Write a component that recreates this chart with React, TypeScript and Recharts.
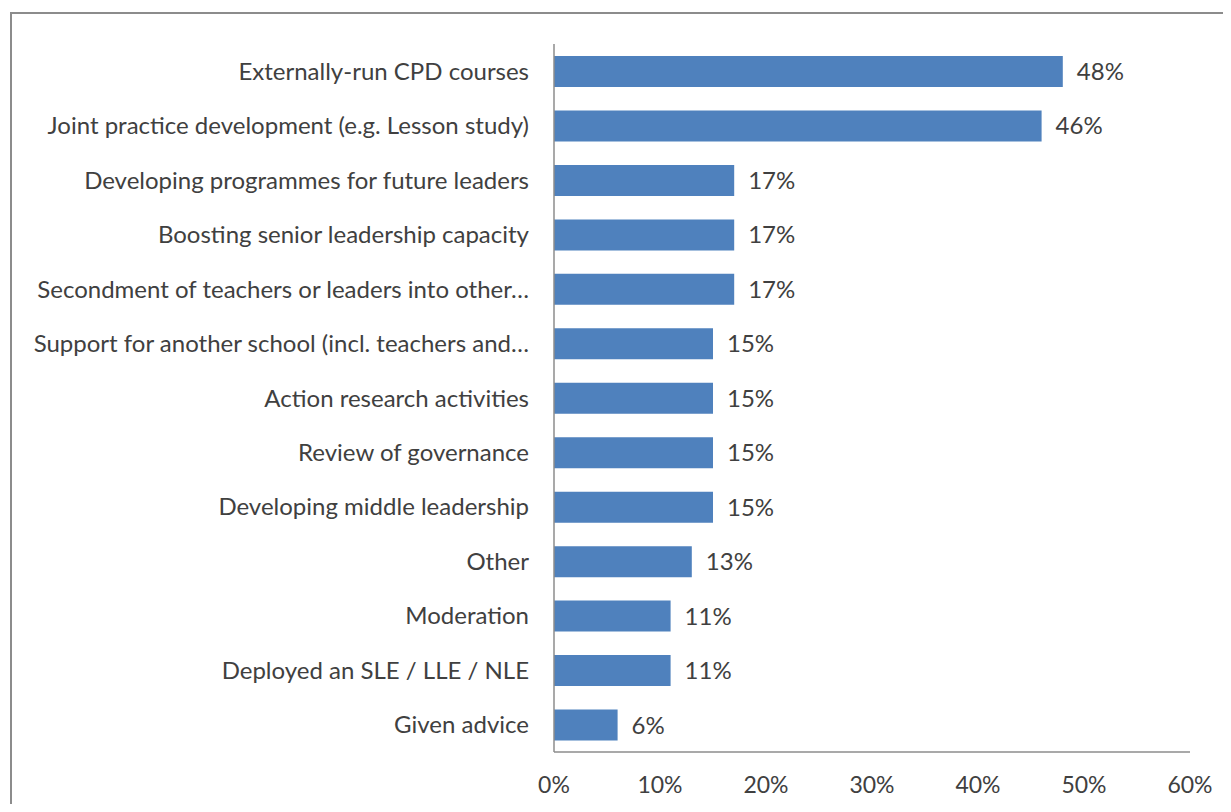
import { BarChart, Bar, XAxis, YAxis, LabelList } from 'recharts'

const categories = [
  'Externally-run CPD courses',
  'Joint practice development (e.g. Lesson study)',
  'Developing programmes for future leaders',
  'Boosting senior leadership capacity',
  'Secondment of teachers or leaders into other…',
  'Support for another school (incl. teachers and…',
  'Action research activities',
  'Review of governance',
  'Developing middle leadership',
  'Other',
  'Moderation',
  'Deployed an SLE / LLE / NLE',
  'Given advice',
]

const percentages = [48, 46, 17, 17, 17, 15, 15, 15, 15, 13, 11, 11, 6]

const xTicks = [0, 10, 20, 30, 40, 50, 60]

const data = categories.map((name, i) => ({ name, value: percentages[i] }))

const FONT = 'Lato, "Open Sans", sans-serif'
const TEXT = '#404040'

export default function App() {
  return (
    <div
      style={{
        position: 'relative',
        width: 1231,
        height: 812,
        margin: -8,
        overflow: 'hidden',
        background: '#fff',
        fontFamily: FONT,
      }}
    >
      {/* outer frame, runs off the right/bottom edge like the screenshot */}
      <div
        style={{
          position: 'absolute',
          left: 10,
          top: 12,
          width: 1240,
          height: 820,
          border: '2px solid #8c8c8c',
        }}
      />
      <div style={{ position: 'absolute', left: 0, top: 0 }}>
        <BarChart
          width={1231}
          height={812}
          data={data}
          layout="vertical"
          margin={{ top: 44, right: 41, bottom: 10, left: 0 }}
          barCategoryGap={0}
        >
          <XAxis
            type="number"
            domain={[0, 60]}
            ticks={xTicks}
            tickFormatter={(v) => `${v}%`}
            tickLine={false}
            tickMargin={19}
            height={50}
            axisLine={{ stroke: '#8c8c8c', strokeWidth: 1.5 }}
            tick={{ fill: TEXT, fontSize: 23, fontFamily: FONT }}
          />
          <YAxis
            type="category"
            dataKey="name"
            width={554}
            tickLine={false}
            tickMargin={19}
            interval={0}
            axisLine={{ stroke: '#8c8c8c', strokeWidth: 1.5 }}
            tick={{ fill: TEXT, fontSize: 24, fontFamily: FONT }}
          />
          <Bar dataKey="value" fill="#4f81bd" barSize={31} isAnimationActive={false}>
            <LabelList
              dataKey="value"
              position="right"
              offset={14}
              formatter={(v: any) => `${v}%`}
              style={{ fill: TEXT, fontSize: 24, fontFamily: FONT }}
            />
          </Bar>
        </BarChart>
      </div>
    </div>
  )
}
